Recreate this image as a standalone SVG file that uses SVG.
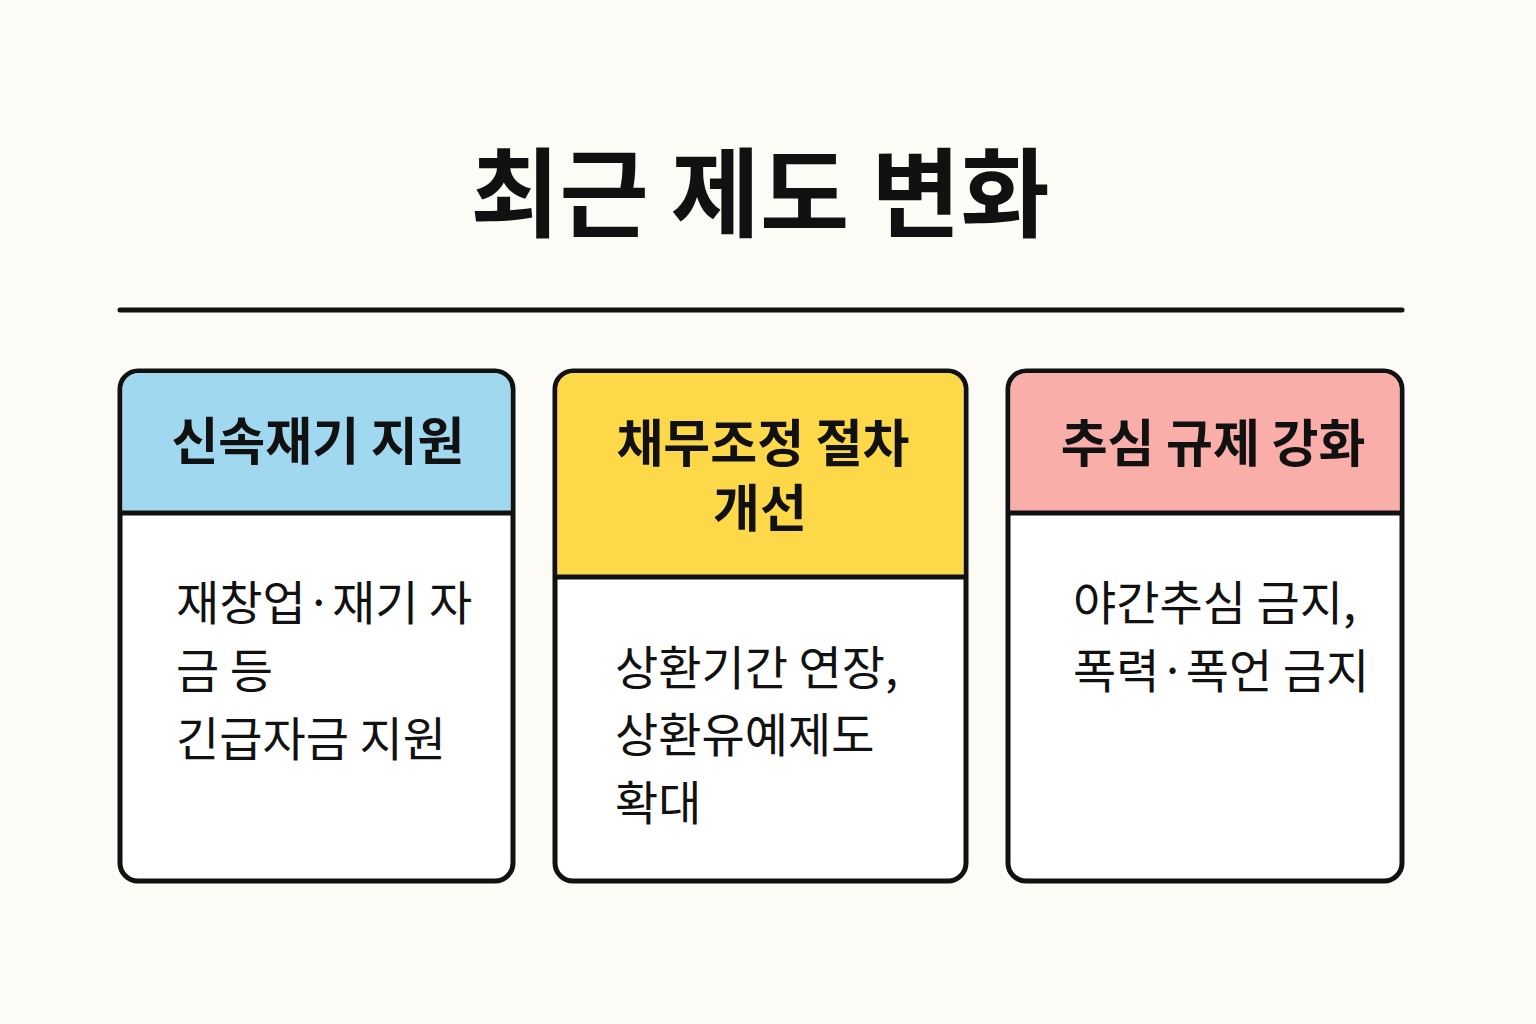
<svg xmlns="http://www.w3.org/2000/svg" width="1536" height="1024" viewBox="0 0 1536 1024">
<style>
text{font-family:"Noto Sans CJK KR","Noto Sans",sans-serif;fill:#111}
.t{font-size:97px;font-weight:700;text-anchor:middle}
.h{font-size:51px;font-weight:700;text-anchor:middle}
.b{font-size:47px;font-weight:400}
.box{fill:#fff;stroke:#111;stroke-width:5}
.sep{stroke:#111;stroke-width:5}
</style>
<rect width="1536" height="1024" fill="#fdfbf6"/>
<text class="t" x="760" y="229">최근 제도 변화</text>
<line x1="120" y1="310" x2="1402" y2="310" stroke="#111" stroke-width="5" stroke-linecap="round"/>
<g id="card1">
<rect class="box" x="120" y="371" width="393" height="510" rx="18"/>
<path d="M122.5 513 V389 a16 16 0 0 1 16 -16 H494.5 a16 16 0 0 1 16 16 V513 Z" fill="#a0d8ef"/>
<line class="sep" x1="120" y1="513" x2="513" y2="513"/>
<text class="h" x="318" y="460">신속재기 지원</text>
<text class="b" x="176" y="620">재창업·재기 자</text>
<text class="b" x="176" y="688">금 등</text>
<text class="b" x="176" y="756">긴급자금 지원</text>
</g>
<g id="card2">
<rect class="box" x="555" y="371" width="411" height="510" rx="18"/>
<path d="M557.5 577 V389 a16 16 0 0 1 16 -16 H947.5 a16 16 0 0 1 16 16 V577 Z" fill="#fdd94a"/>
<line class="sep" x1="555" y1="577" x2="966" y2="577"/>
<text class="h" x="763" y="462">채무조정 절차</text>
<text class="h" x="760" y="527">개선</text>
<text class="b" x="615" y="685">상환기간 연장,</text>
<text class="b" x="615" y="752">상환유예제도</text>
<text class="b" x="615" y="820">확대</text>
</g>
<g id="card3">
<rect class="box" x="1008" y="371" width="394" height="510" rx="18"/>
<path d="M1010.5 513 V389 a16 16 0 0 1 16 -16 H1383.5 a16 16 0 0 1 16 16 V513 Z" fill="#f9aeaa"/>
<line class="sep" x1="1008" y1="513" x2="1402" y2="513"/>
<text class="h" x="1213" y="462">추심 규제 강화</text>
<text class="b" x="1073" y="620">야간추심 금지,</text>
<text class="b" x="1073" y="688">폭력·폭언 금지</text>
</g>
<g id="connectors"/>
</svg>
